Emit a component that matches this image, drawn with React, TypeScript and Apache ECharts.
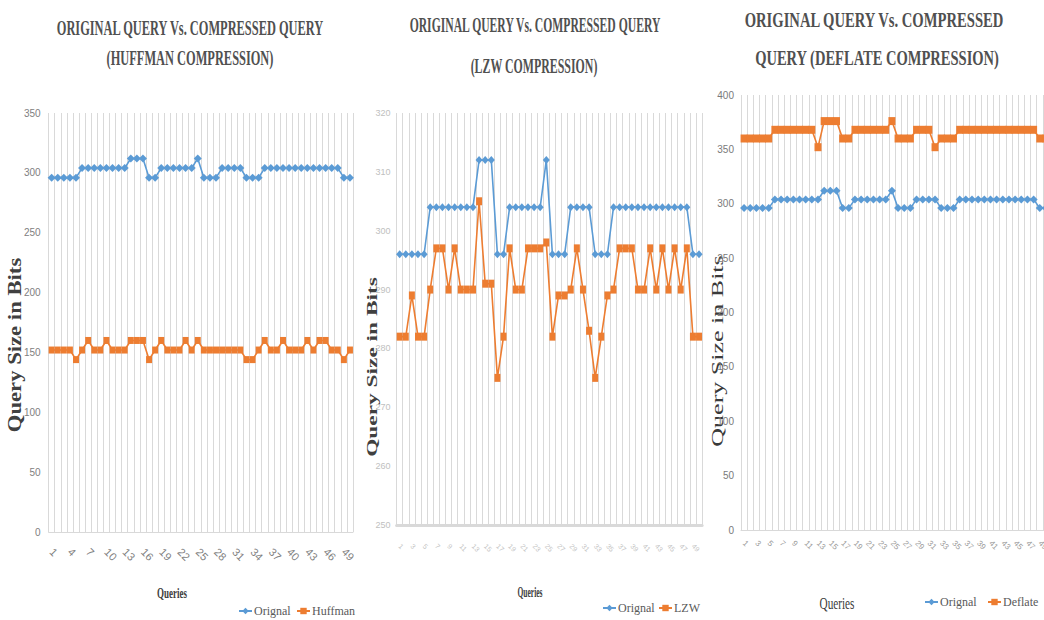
import React, { useEffect, useRef } from "react";
import * as echarts from "echarts";

const queries = [
  "1", "2", "3", "4", "5", "6", "7", "8", "9", "10",
  "11", "12", "13", "14", "15", "16", "17", "18", "19", "20",
  "21", "22", "23", "24", "25", "26", "27", "28", "29", "30",
  "31", "32", "33", "34", "35", "36", "37", "38", "39", "40",
  "41", "42", "43", "44", "45", "46", "47", "48", "49", "50",
];

const original = [
  296, 296, 296, 296, 296, 304, 304, 304, 304, 304,
  304, 304, 304, 312, 312, 312, 296, 296, 304, 304,
  304, 304, 304, 304, 312, 296, 296, 296, 304, 304,
  304, 304, 296, 296, 296, 304, 304, 304, 304, 304,
  304, 304, 304, 304, 304, 304, 304, 304, 296, 296,
];

const huffman = [
  152, 152, 152, 152, 144, 152, 160, 152, 152, 160,
  152, 152, 152, 160, 160, 160, 144, 152, 160, 152,
  152, 152, 160, 152, 160, 152, 152, 152, 152, 152,
  152, 152, 144, 144, 152, 160, 152, 152, 160, 152,
  152, 152, 160, 152, 160, 160, 152, 152, 144, 152,
];

const lzw = [
  282, 282, 289, 282, 282, 290, 297, 297, 290, 297,
  290, 290, 290, 305, 291, 291, 275, 282, 297, 290,
  290, 297, 297, 297, 298, 282, 289, 289, 290, 297,
  290, 283, 275, 282, 289, 290, 297, 297, 297, 290,
  290, 297, 290, 297, 290, 297, 290, 297, 282, 282,
];

const deflate = [
  360, 360, 360, 360, 360, 368, 368, 368, 368, 368,
  368, 368, 352, 376, 376, 376, 360, 360, 368, 368,
  368, 368, 368, 368, 376, 360, 360, 360, 368, 368,
  368, 352, 360, 360, 360, 368, 368, 368, 368, 368,
  368, 368, 368, 368, 368, 368, 368, 368, 360, 360,
];

const BLUE = "#5B9BD5";
const ORANGE = "#ED7D31";
const GRID = "#d9d9d9";
const SERIF = '"Liberation Serif", "Times New Roman", serif';
const NARROW = '"Liberation Sans Narrow", "Liberation Sans", sans-serif';

function txt(
  text: string,
  x: number,
  y: number,
  size: number,
  bold: boolean,
  scaleX: number,
  color: string,
  rotation = 0
) {
  return {
    type: "text",
    x,
    y,
    rotation,
    scaleX,
    scaleY: 1,
    silent: true,
    style: {
      text,
      font: `${bold ? "bold " : ""}${size}px ${SERIF}`,
      fill: color,
      align: "center",
      verticalAlign: "middle",
      textAlign: "center",
      textVerticalAlign: "middle",
    },
  };
}

function xAxisFor(
  gridIndex: number,
  interval: number,
  fontSize: number,
  color: string,
  margin: number,
  lineWidth: number
) {
  return {
    type: "category",
    gridIndex,
    data: queries,
    boundaryGap: true,
    axisLine: { show: true, lineStyle: { color: GRID, width: lineWidth } },
    axisTick: { show: false },
    splitLine: { show: true, interval: 0, lineStyle: { color: GRID, width: 1 } },
    axisLabel: {
      interval,
      rotate: -45,
      fontSize,
      color,
      margin,
      fontFamily: NARROW,
    },
  };
}

function yAxisFor(
  gridIndex: number,
  min: number,
  max: number,
  interval: number,
  fontSize: number,
  color: string,
  margin: number
) {
  return {
    type: "value",
    gridIndex,
    min,
    max,
    interval,
    axisLine: { show: false },
    axisTick: { show: false },
    splitLine: { show: false },
    axisLabel: { fontSize, color, margin, fontFamily: NARROW },
  };
}

function lineSeries(
  name: string,
  data: number[],
  idx: number,
  color: string,
  symbol: string,
  symbolSize: number | number[]
) {
  return {
    name,
    type: "line",
    xAxisIndex: idx,
    yAxisIndex: idx,
    data,
    color,
    symbol,
    symbolSize,
    showSymbol: true,
    showAllSymbol: true,
    lineStyle: { color, width: 1.6 },
    itemStyle: { color },
  };
}

function legendItem(name: string, left: number, top: number) {
  return {
    data: [name],
    left,
    top,
    itemWidth: 13,
    itemHeight: 8,
    itemGap: 0,
    selectedMode: false,
    textStyle: { fontFamily: SERIF, fontSize: 12, color: "#595959", padding: [0, 0, 0, -3] },
  };
}

export default function App() {
  const ref = useRef<HTMLDivElement>(null);

  useEffect(() => {
    if (!ref.current) return;
    const chart = echarts.init(ref.current, undefined, { renderer: "svg" });
    const option = {
      animation: false,
      backgroundColor: "#ffffff",
      grid: [
        { left: 48.6, top: 113, width: 304.4, height: 419, outerBoundsMode: "none", containLabel: false },
        { left: 396.6, top: 113, width: 305.5, height: 412, outerBoundsMode: "none", containLabel: false },
        { left: 741, top: 95, width: 308, height: 435, outerBoundsMode: "none", containLabel: false },
      ],
      xAxis: [
        xAxisFor(0, 2, 11, "#7f7f7f", 18, 1),
        xAxisFor(1, 1, 7, "#c4c4c4", 20, 3),
        xAxisFor(2, 1, 8, "#999999", 12, 1),
      ],
      yAxis: [
        yAxisFor(0, 0, 350, 50, 10, "#808080", 8),
        yAxisFor(1, 250, 320, 10, 9, "#c0c0c0", 6),
        yAxisFor(2, 0, 400, 50, 10, "#7a7a7a", 7),
      ],
      legend: [
        legendItem("Orignal", 233, 600),
        legendItem("Huffman", 291, 600),
        legendItem("Orignal", 597, 597),
        legendItem("LZW", 653, 597),
        legendItem("Orignal", 919, 591),
        legendItem("Deflate", 982, 591),
      ],
      series: [
        lineSeries("Orignal", original, 0, BLUE, "diamond", [8, 8]),
        lineSeries("Huffman", huffman, 0, ORANGE, "rect", [6, 7]),
        lineSeries("Orignal", original, 1, BLUE, "diamond", [7, 8]),
        lineSeries("LZW", lzw, 1, ORANGE, "rect", [6, 8]),
        lineSeries("Orignal", original, 2, BLUE, "diamond", [8, 8]),
        lineSeries("Deflate", deflate, 2, ORANGE, "rect", [7, 8]),
      ],
      graphic: [
        txt("ORIGINAL QUERY Vs. COMPRESSED QUERY", 190, 28, 21, true, 0.59, "#505050"),
        txt("(HUFFMAN COMPRESSION)", 190, 58, 21, true, 0.59, "#505050"),
        txt("ORIGINAL QUERY Vs. COMPRESSED QUERY", 535, 25, 22, true, 0.53, "#505050"),
        txt("(LZW COMPRESSION)", 534, 66, 22, true, 0.54, "#505050"),
        txt("ORIGINAL QUERY Vs. COMPRESSED", 874, 19, 22, true, 0.665, "#505050"),
        txt("QUERY (DEFLATE COMPRESSION)", 877, 57, 22, true, 0.66, "#505050"),
        txt("Query Size in Bits", 15, 345, 18, true, 1.26, "#404040", Math.PI / 2),
        txt("Query Size in Bits", 372, 367, 14, true, 1.67, "#404040", Math.PI / 2),
        txt("Query Size in Bits", 717, 351, 17, false, 1.53, "#3a3a3a", Math.PI / 2),
        txt("Queries", 172, 594, 14, true, 0.64, "#404040"),
        txt("Queries", 530, 592, 15, true, 0.5, "#404040"),
        txt("Queries", 837, 603, 17, false, 0.66, "#3a3a3a"),
      ],
    };
    chart.setOption(option as any);
    return () => {
      chart.dispose();
    };
  }, []);

  return (
    <div
      ref={ref}
      style={{
        position: "fixed",
        left: 0,
        top: 0,
        width: 1044,
        height: 620,
        background: "#ffffff",
        overflow: "hidden",
      }}
    />
  );
}
